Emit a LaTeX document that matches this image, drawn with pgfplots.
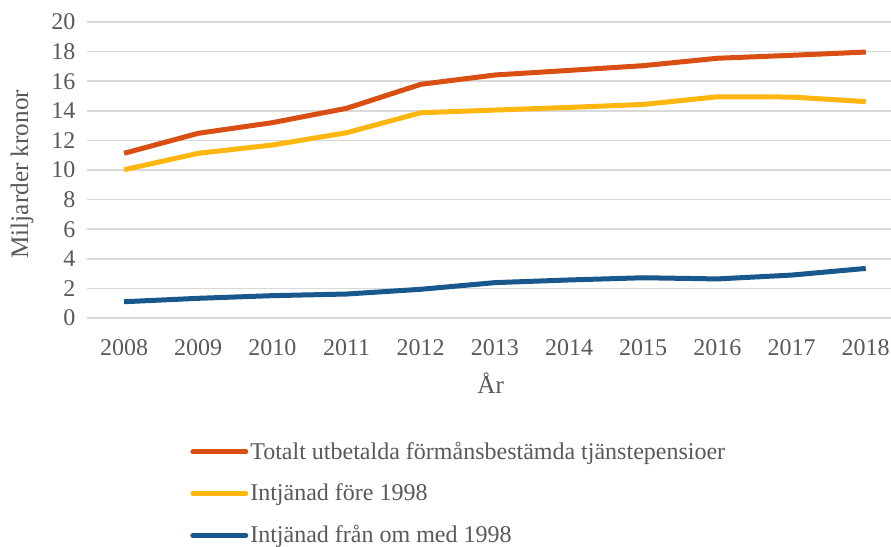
\documentclass[border=0pt]{standalone}
\usepackage{pgfplots}
\pgfplotsset{compat=1.18}
\usepackage{fontspec}
\setmainfont{Liberation Serif}
\definecolor{totc}{RGB}{217,78,18}
\definecolor{forec}{RGB}{255,183,16}
\definecolor{efterc}{RGB}{25,88,140}
\definecolor{txt}{RGB}{89,89,89}
\definecolor{gridc}{RGB}{217,217,217}
\begin{document}
\begin{tikzpicture}
\begin{axis}[
  scale only axis, width=402pt, height=148pt,
  xmin=2007.5, xmax=2018.34, ymin=0, ymax=20,
  xtick={2008,...,2018}, ytick={0,2,...,20},
  ymajorgrids, major grid style={gridc, line width=0.8pt},
  axis line style={draw=none}, tick style={draw=none},
  /pgf/number format/assume math mode=true,
  /pgf/number format/1000 sep={},
  tick label style={font=\fontsize{12}{14}\selectfont, text=txt},
  xticklabel style={yshift=-7pt},
  yticklabel style={xshift=-2.3pt},
  xlabel={År}, ylabel={Miljarder kronor},
  label style={font=\fontsize{12.6}{14}\selectfont, text=txt},
  xlabel style={at={(axis description cs:0.502,0)}, anchor=center, yshift=-32.5pt},
  ylabel style={at={(axis description cs:0,0.486)}, anchor=center, yshift=32.5pt},
  legend style={at={(rel axis cs:0.128,-0.403)}, anchor=north west, draw=none, fill=none,
    inner sep=0pt, row sep=6.8pt, font=\fontsize{12}{14}\selectfont, text=txt,
    nodes={inner xsep=1pt}},
  legend cell align=left,
  legend image code/.code={\draw[#1, line cap=round] (0pt,0pt) -- (26.5pt,0pt);},
  every axis plot/.append style={line width=2.5pt, line join=round},
]
\addplot[totc] coordinates {(2008,11.13) (2009,12.48) (2010,13.2) (2011,14.17) (2012,15.79) (2013,16.42) (2014,16.73) (2015,17.05) (2016,17.55) (2017,17.75) (2018,17.97)};
\addlegendentry{Totalt utbetalda förmånsbestämda tjänstepensioer}
\addplot[forec] coordinates {(2008,10.02) (2009,11.13) (2010,11.69) (2011,12.52) (2012,13.87) (2013,14.05) (2014,14.23) (2015,14.43) (2016,14.95) (2017,14.93) (2018,14.62)};
\addlegendentry{Intjänad före 1998}
\addplot[efterc] coordinates {(2008,1.1) (2009,1.33) (2010,1.51) (2011,1.62) (2012,1.94) (2013,2.39) (2014,2.57) (2015,2.72) (2016,2.64) (2017,2.9) (2018,3.35)};
\addlegendentry{Intjänad från om med 1998}
\end{axis}
\pgfresetboundingbox
\path (-43.5pt,-114.5pt) rectangle (402pt,159pt);
\end{tikzpicture}
\end{document}
